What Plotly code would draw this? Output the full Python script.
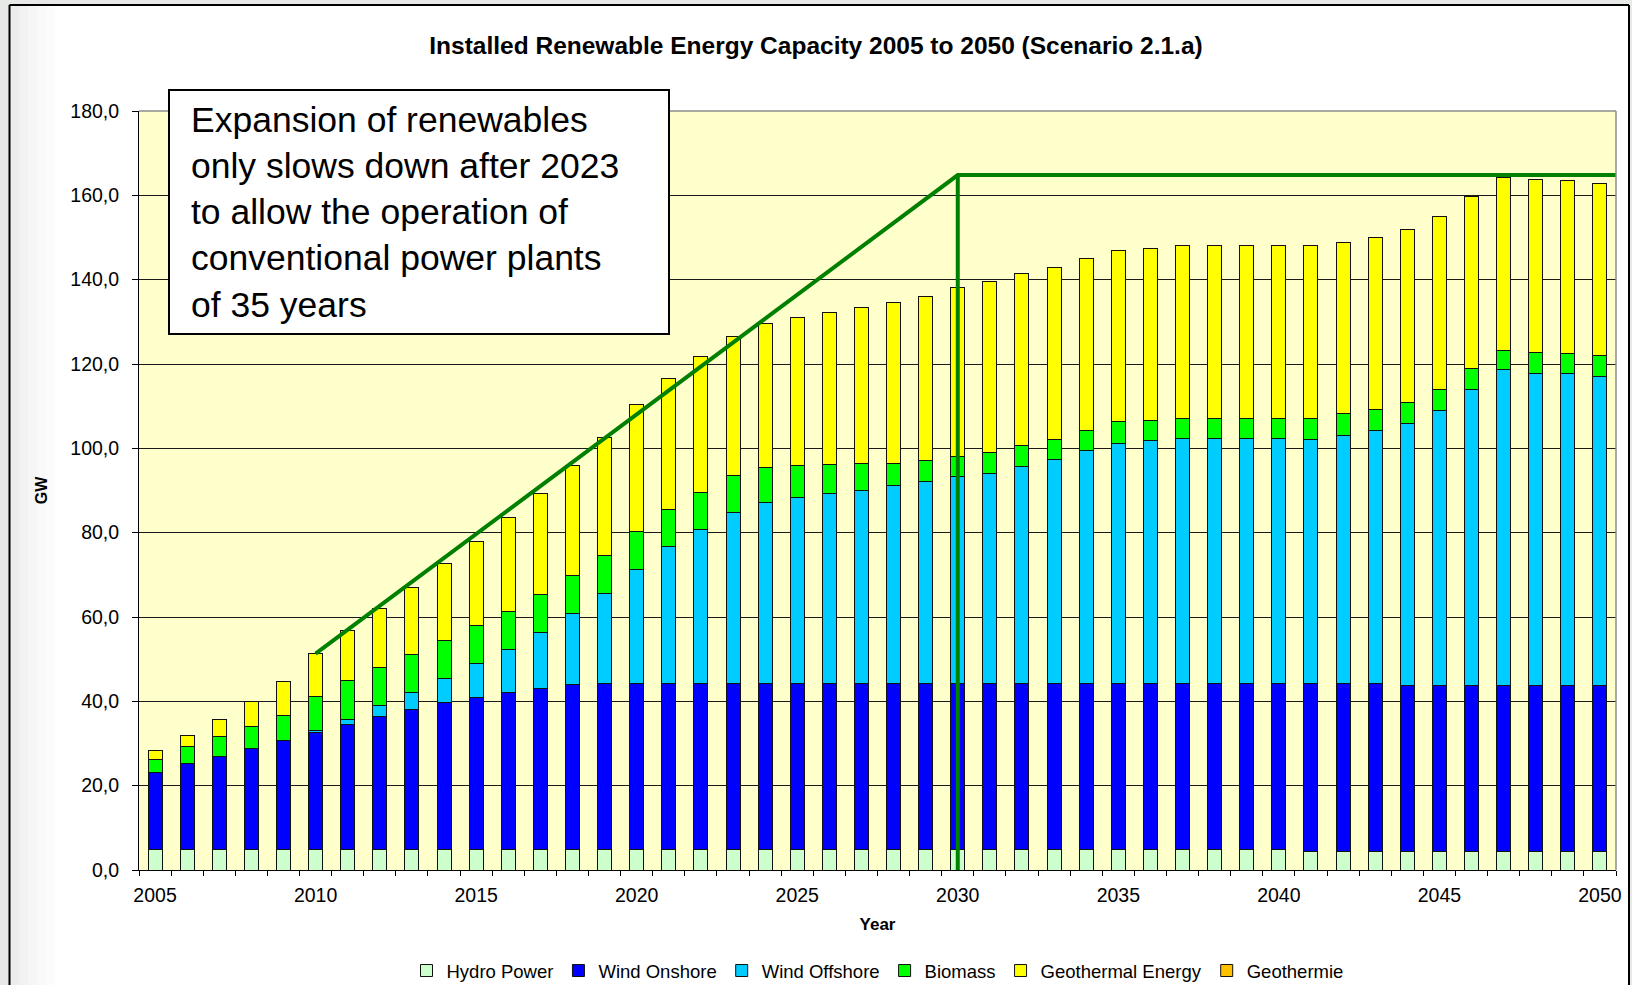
import plotly.graph_objects as go

# ---------------- data ----------------
years = [2005, 2006, 2007, 2008, 2009, 2010, 2011, 2012, 2013, 2014,
         2015, 2016, 2017, 2018, 2019, 2020, 2021, 2022, 2023, 2024,
         2025, 2026, 2027, 2028, 2029, 2030, 2031, 2032, 2033, 2034,
         2035, 2036, 2037, 2038, 2039, 2040, 2041, 2042, 2043, 2044,
         2045, 2046, 2047, 2048, 2049, 2050]

hydro_power = [4.8, 4.8, 4.8, 4.8, 4.8, 4.8, 4.8, 4.8, 4.8, 4.8,
               4.8, 4.8, 4.8, 4.8, 4.8, 4.8, 4.8, 4.8, 4.8, 4.8,
               4.8, 4.8, 4.8, 4.8, 4.8, 4.8, 4.8, 4.8, 4.8, 4.8,
               4.8, 4.8, 4.8, 4.8, 4.8, 4.8, 4.5, 4.5, 4.5, 4.5,
               4.5, 4.5, 4.5, 4.5, 4.5, 4.5]

wind_onshore = [18.3, 20.4, 22.1, 24.0, 25.8, 27.7, 29.8, 31.6, 33.2, 34.9,
                36.2, 37.3, 38.3, 39.2, 39.4, 39.4, 39.4, 39.4, 39.4, 39.4,
                39.4, 39.4, 39.4, 39.4, 39.4, 39.4, 39.4, 39.4, 39.4, 39.4,
                39.4, 39.4, 39.4, 39.4, 39.4, 39.4, 39.7, 39.7, 39.7, 39.3,
                39.3, 39.3, 39.3, 39.3, 39.3, 39.3]

wind_offshore = [0.0, 0.0, 0.0, 0.0, 0.0, 0.6, 1.2, 2.6, 4.0, 5.7,
                 7.9, 10.3, 13.2, 16.9, 21.4, 27.1, 32.6, 36.6, 40.6, 43.0,
                 44.1, 45.1, 45.9, 47.0, 48.0, 49.1, 49.9, 51.5, 53.1, 55.2,
                 56.9, 57.6, 58.1, 58.1, 58.1, 58.1, 57.9, 58.9, 60.0, 62.2,
                 65.2, 70.2, 74.8, 74.0, 74.0, 73.2]

biomass = [3.2, 4.1, 4.7, 5.3, 6.1, 8.0, 9.1, 9.1, 9.1, 9.0,
           9.0, 9.0, 9.1, 9.0, 9.0, 9.0, 8.8, 8.7, 8.8, 8.2,
           7.6, 6.9, 6.3, 5.2, 4.8, 4.8, 5.0, 4.9, 4.7, 4.8,
           5.2, 4.8, 4.8, 4.8, 4.8, 4.8, 5.0, 5.1, 4.9, 4.8,
           5.0, 5.0, 4.7, 5.0, 4.7, 4.9]

geothermal_energy = [2.0, 2.6, 4.1, 5.8, 8.0, 10.2, 12.0, 13.8, 15.9, 18.2,
                     19.9, 22.1, 24.0, 26.0, 28.0, 30.0, 31.0, 32.2, 32.9, 34.1,
                     35.1, 35.9, 37.1, 38.1, 39.1, 40.1, 40.4, 40.8, 41.0, 40.9,
                     40.7, 40.9, 40.9, 40.9, 40.9, 40.9, 40.9, 40.7, 40.8, 41.0,
                     40.9, 40.7, 40.9, 41.0, 41.0, 41.0]

geothermie = [0, 0, 0, 0, 0, 0, 0, 0, 0, 0,
              0, 0, 0, 0, 0, 0, 0, 0, 0, 0,
              0, 0, 0, 0, 0, 0, 0, 0, 0, 0,
              0, 0, 0, 0, 0, 0, 0, 0, 0, 0,
              0, 0, 0, 0, 0, 0]

series_names = ["Hydro Power", "Wind Onshore", "Wind Offshore", "Biomass",
                "Geothermal Energy", "Geothermie"]
series_values = [hydro_power, wind_onshore, wind_offshore, biomass,
                 geothermal_energy, geothermie]
series_colors = ["#CCFFCC", "#0000FF", "#00CCFF", "#00FF00", "#FFFF00", "#FFC000"]

# green guide line (annotation): ramp from 2010 to 2030, then cap; vertical at 2030
guide_x = [2010, 2030, 2050.5, None, 2030, 2030]
guide_y = [51.3, 164.8, 164.8, None, 164.8, 0.0]

y_ticks = [0, 20, 40, 60, 80, 100, 120, 140, 160, 180]

title_text = "Installed Renewable Energy Capacity 2005 to 2050 (Scenario 2.1.a)"
note_text = ("Expansion of renewables<br>only slows down after 2023<br>"
             "to allow the operation of<br>conventional power plants<br>of 35 years")

# ---------------- layout geometry ----------------
W, H = 1632, 985
ML, MR, MT, MB = 139, 16, 111, 115
PW, PH = W - ML - MR, H - MT - MB
FONT = "Liberation Sans, Arial, sans-serif"


def px(x):
    return (x - ML) / PW


def py(y):
    return 1 - (y - MT) / PH


fig = go.Figure()
for name, vals, col in zip(series_names, series_values, series_colors):
    fig.add_trace(go.Bar(
        x=years, y=vals, name=name,
        marker=dict(color=col, line=dict(color="#111111", width=1)),
    ))

fig.add_trace(go.Scatter(
    x=guide_x, y=guide_y, mode="lines", showlegend=False,
    line=dict(color="#008000", width=4), hoverinfo="skip",
))

shapes = []
grey = "#E7E9E7"
# outer grey margins
shapes.append(dict(type="rect", xref="paper", yref="paper", x0=px(0), x1=px(9), y0=py(H + 5), y1=py(-5),
                   fillcolor=grey, line=dict(width=0), layer="below"))
shapes.append(dict(type="rect", xref="paper", yref="paper", x0=px(0), x1=px(W + 5), y0=py(5), y1=py(-5),
                   fillcolor=grey, line=dict(width=0), layer="below"))
shapes.append(dict(type="rect", xref="paper", yref="paper", x0=px(1630), x1=px(W + 5), y0=py(H + 5), y1=py(-5),
                   fillcolor=grey, line=dict(width=0), layer="below"))
# soft gradient on the left inside the frame
for i, op in enumerate([0.8, 0.6, 0.42, 0.26, 0.12]):
    shapes.append(dict(type="rect", xref="paper", yref="paper", x0=px(10 + i * 9), x1=px(19 + i * 9),
                       y0=py(H + 5), y1=py(6), fillcolor=grey, opacity=op, line=dict(width=0), layer="below"))
# black frame lines
shapes.append(dict(type="line", xref="paper", yref="paper", x0=px(9.5), x1=px(9.5), y0=py(5), y1=py(H + 5),
                   line=dict(color="black", width=2)))
shapes.append(dict(type="line", xref="paper", yref="paper", x0=px(9.5), x1=px(1629), y0=py(5), y1=py(5),
                   line=dict(color="black", width=2)))
shapes.append(dict(type="line", xref="paper", yref="paper", x0=px(1629), x1=px(1629), y0=py(5), y1=py(H + 5),
                   line=dict(color="black", width=2)))
# plot area border (grey top / right)
shapes.append(dict(type="line", xref="paper", yref="paper", x0=0, x1=1, y0=1, y1=1,
                   line=dict(color="#8C8C8C", width=1.5), layer="above"))
shapes.append(dict(type="line", xref="paper", yref="paper", x0=1, x1=1, y0=0, y1=1,
                   line=dict(color="#8C8C8C", width=1.5), layer="above"))
# text box
shapes.append(dict(type="rect", xref="paper", yref="paper", x0=px(169), x1=px(669), y0=py(334), y1=py(90),
                   fillcolor="white", line=dict(color="black", width=2), layer="above"))

fig.update_layout(
    width=W, height=H,
    margin=dict(l=ML, r=MR, t=MT, b=MB, pad=0, autoexpand=False),
    barmode="stack", bargap=0.564,
    plot_bgcolor="#FFFFCC", paper_bgcolor="white",
    separators=",.",
    font=dict(family=FONT, color="black", size=18),
    title=dict(text="<b>" + title_text + "</b>", x=0.5, xref="container", xanchor="center",
               y=1 - 45 / H, yref="container", yanchor="middle",
               font=dict(family=FONT, size=24.5, color="black")),
    legend=dict(orientation="h", x=0.5, xanchor="center", y=py(971), yanchor="middle",
                traceorder="normal", font=dict(family=FONT, size=18.5, color="black"),
                bgcolor="rgba(0,0,0,0)"),
    xaxis=dict(type="linear", range=[2004.5, 2050.5], tickmode="linear", tick0=2005, dtick=5,
               ticks="", showline=True, linecolor="black", linewidth=1, showgrid=False, zeroline=False,
               automargin=False,
               tickfont=dict(family=FONT, size=19.5, color="black"), ticklabelstandoff=8,
               minor=dict(tick0=2004.5, dtick=1, ticks="outside", ticklen=5, tickcolor="black",
                          tickwidth=1, showgrid=False),
               title=dict(text="<b>Year</b>", font=dict(family=FONT, size=17, color="black"), standoff=12)),
    yaxis=dict(range=[0, 180], tickmode="array", tickvals=y_ticks, tickformat=".1f",
               ticks="outside", ticklen=6, tickcolor="black", tickwidth=1,
               showline=True, linecolor="black", linewidth=1, automargin=False,
               showgrid=True, gridcolor="#1A1A1A", gridwidth=1, zeroline=False,
               tickfont=dict(family=FONT, size=19.5, color="black"), ticklabelstandoff=9,
               title=dict(text="<b>GW</b>", font=dict(family=FONT, size=16, color="black"), standoff=18)),
    shapes=shapes,
    annotations=[dict(text=note_text, xref="paper", yref="paper", x=px(189), y=py(212),
                      xanchor="left", yanchor="middle", align="left", showarrow=False,
                      font=dict(family=FONT, size=35.5, color="black"))],
)

fig.write_html("out.html", config={"displayModeBar": False},
               post_script="document.body.style.margin='0';document.body.style.overflow='hidden';")
